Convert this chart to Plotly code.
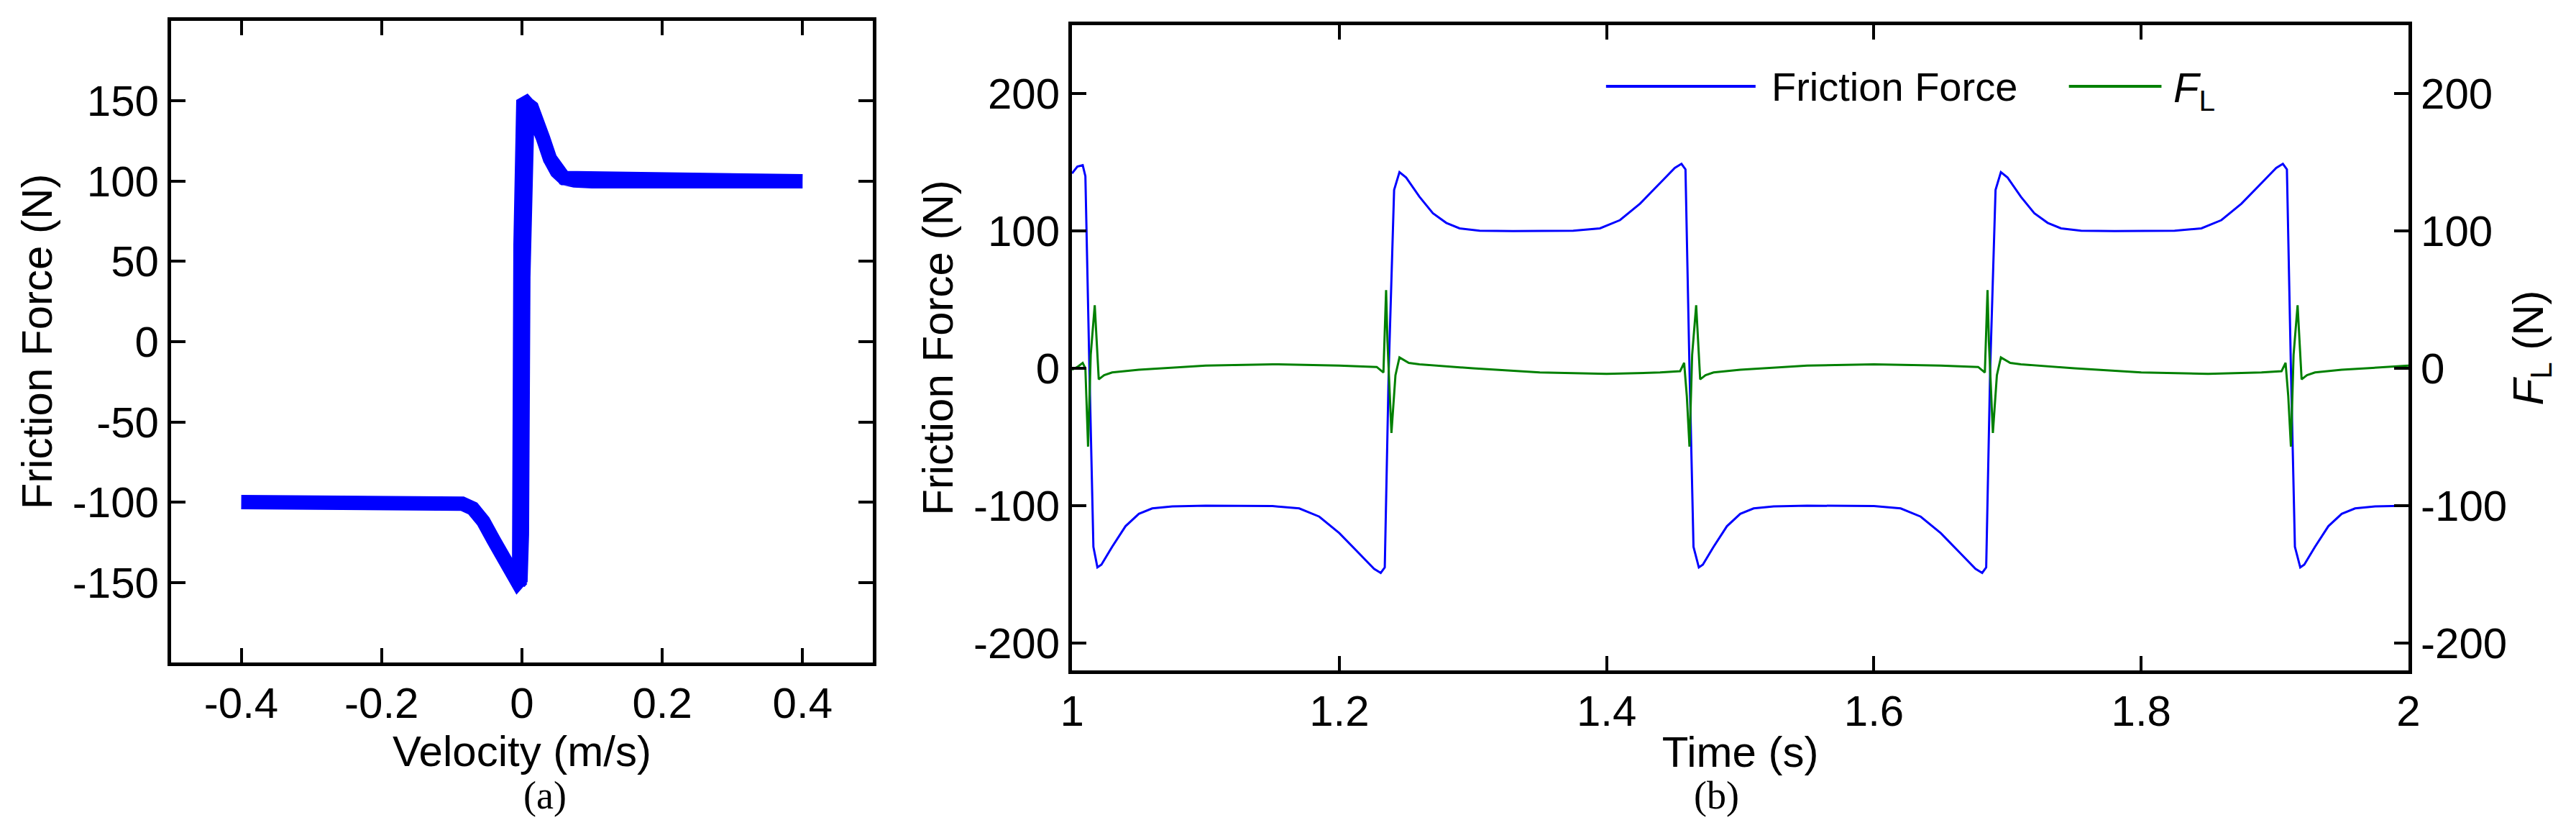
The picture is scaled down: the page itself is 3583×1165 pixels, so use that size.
import plotly.graph_objects as go

# Panel (a): friction force vs velocity (hysteresis loop)
vel_a = [-0.4, -0.1, -0.085, -0.07, -0.055, -0.04, -0.03, -0.02, -0.012, -0.006, -0.002, 0.0, 0.002, 0.004,
         0.008, 0.014, 0.02, 0.03, 0.04, 0.05, 0.06, 0.075, 0.1, 0.4,
         0.1, 0.075, 0.06, 0.05, 0.04, 0.03, 0.02, 0.012, 0.006, 0.002, -0.002, -0.006, -0.004, 0.0]
force_a = [-100, -100, -101, -104, -112, -124, -133, -142, -147, -150, -148, -120, 40, 146,
           148, 146, 140, 127, 114, 106, 102, 100.5, 100, 100,
           100, 100.5, 102, 106, 114, 127, 140, 146, 149, 148, 60, -140, -150, -148]

# Panel (b): time histories
time_ff = [1.000, 1.004, 1.008, 1.010, 1.013, 1.016, 1.019, 1.022, 1.030, 1.040, 1.050, 1.060, 1.075, 1.100,
           1.150, 1.170, 1.185, 1.200, 1.215, 1.226, 1.231, 1.234, 1.237, 1.241, 1.245, 1.250, 1.260, 1.270,
           1.280, 1.290, 1.305, 1.330, 1.375, 1.395, 1.410, 1.425, 1.440, 1.451, 1.456, 1.459, 1.462, 1.465,
           1.469, 1.472, 1.480, 1.490, 1.500, 1.510, 1.525, 1.550, 1.600, 1.620, 1.635, 1.650, 1.665, 1.676,
           1.681, 1.684, 1.687, 1.691, 1.695, 1.700, 1.710, 1.720, 1.730, 1.740, 1.755, 1.780, 1.825, 1.845,
           1.860, 1.875, 1.890, 1.901, 1.906, 1.909, 1.912, 1.915, 1.919, 1.922, 1.930, 1.940, 1.950, 1.960,
           1.975, 2.000]
friction = [142, 147, 148, 140, 0, -130, -145, -143, -130, -115, -106, -102, -100.5, -100,
            -100.3, -102, -108, -120, -135, -146, -149, -145, 0, 130, 143, 139, 125, 113,
            106, 102, 100.3, 100, 100.3, 102, 108, 120, 135, 146, 149, 145, 0, -130,
            -145, -143, -130, -115, -106, -102, -100.5, -100, -100.3, -102, -108, -120, -135, -146,
            -149, -145, 0, 130, 143, 139, 125, 113, 106, 102, 100.3, 100, 100.3, 102,
            108, 120, 135, 146, 149, 145, 0, -130, -145, -143, -130, -115, -106, -102,
            -100.5, -100]

time_fl = [1.000, 1.004, 1.008, 1.010, 1.012, 1.014, 1.017, 1.020, 1.024, 1.030, 1.050, 1.080, 1.100,
           1.150, 1.200, 1.228, 1.233, 1.235, 1.236, 1.239, 1.242, 1.245, 1.252, 1.260, 1.300, 1.350,
           1.400, 1.440, 1.455, 1.458, 1.460, 1.462, 1.464, 1.467, 1.470, 1.474, 1.480, 1.500, 1.550,
           1.600, 1.650, 1.678, 1.683, 1.685, 1.686, 1.689, 1.692, 1.695, 1.702, 1.710, 1.750, 1.800,
           1.850, 1.890, 1.905, 1.908, 1.910, 1.912, 1.914, 1.917, 1.920, 1.924, 1.930, 1.950, 2.000]
f_l = [-1, 1, 4, 0, -57, 10, 46, -8, -5, -3, -1, 1, 2,
       3, 2, 1, -3, 57, 20, -47, -5, 8, 4, 3, 0, -3,
       -4, -3, -2, 4, -20, -57, 10, 46, -8, -5, -3, -1, 2,
       3, 2, 1, -3, 57, 20, -47, -5, 8, 4, 3, 0, -3,
       -4, -3, -2, 4, -20, -57, 10, 46, -8, -5, -3, -1, 2]

ticks_va = [-0.4, -0.2, 0, 0.2, 0.4]
labels_va = ["-0.4", "-0.2", "0", "0.2", "0.4"]
ticks_fa = [-150, -100, -50, 0, 50, 100, 150]
labels_fa = ["-150", "-100", "-50", "0", "50", "100", "150"]
ticks_t = [1, 1.2, 1.4, 1.6, 1.8, 2]
labels_t = ["1", "1.2", "1.4", "1.6", "1.8", "2"]
ticks_fb = [-200, -100, 0, 100, 200]
labels_fb = ["-200", "-100", "0", "100", "200"]

FONT = "Liberation Sans, Arial, sans-serif"
TICKF = dict(family=FONT, size=60, color="black")
TITLEF = dict(family=FONT, size=60, color="black")

fig = go.Figure()
fig.add_trace(go.Scatter(x=vel_a, y=force_a, mode="lines", line=dict(color="#0000ff", width=20),
                         xaxis="x", yaxis="y", showlegend=False))
fig.add_trace(go.Scatter(x=time_ff, y=friction, mode="lines", line=dict(color="#0000ff", width=3),
                         xaxis="x2", yaxis="y2", name="Friction Force", showlegend=False))
fig.add_trace(go.Scatter(x=time_fl, y=f_l, mode="lines", line=dict(color="#008000", width=3),
                         xaxis="x2", yaxis="y3", name="F_L", showlegend=False))

ax = dict(showline=True, linecolor="black", linewidth=5, mirror="ticks", ticks="inside", ticklen=20,
          tickwidth=4, tickcolor="black", showgrid=False, zeroline=False, tickfont=TICKF)

fig.update_layout(
    width=3583, height=1165, margin=dict(l=0, r=0, t=0, b=0),
    paper_bgcolor="white", plot_bgcolor="white", font=dict(family=FONT, color="black"),
    xaxis=dict(ax, domain=[0.060, 0.335], anchor="y", range=[-0.5, 0.5], tickvals=ticks_va, ticktext=labels_va,
               title=dict(text="Velocity (m/s)", font=TITLEF, standoff=5)),
    yaxis=dict(ax, domain=[0.2163, 0.982], anchor="x", range=[-200, 200], tickvals=ticks_fa, ticktext=labels_fa,
               title=dict(text="Friction Force (N)", font=TITLEF, standoff=10)),
    xaxis2=dict(ax, domain=[0.4131, 0.9369], anchor="y2", range=[1, 2], tickvals=ticks_t, ticktext=labels_t,
                title=dict(text="Time (s)", font=TITLEF, standoff=5)),
    yaxis2=dict(ax, domain=[0.2069, 0.9768], anchor="x2", range=[-220, 250], mirror=False,
                tickvals=ticks_fb, ticktext=labels_fb,
                title=dict(text="Friction Force (N)", font=TITLEF, standoff=10)),
    yaxis3=dict(ax, overlaying="y2", anchor="x2", side="right", range=[-220, 250], mirror=False,
                tickvals=ticks_fb, ticktext=labels_fb,
                title=dict(text="<i>F</i><sub>L</sub> (N)", font=TITLEF, standoff=10)),
)

# manual legend
ly = 1 - 112 / 1165
fig.add_shape(type="line", xref="paper", yref="paper", x0=2230/3583, x1=2440/3583, y0=ly, y1=ly,
              line=dict(color="#0000ff", width=4))
fig.add_shape(type="line", xref="paper", yref="paper", x0=2880/3583, x1=3010/3583, y0=ly, y1=ly,
              line=dict(color="#008000", width=4))
fig.add_annotation(xref="paper", yref="paper", x=2460/3583, y=ly, xanchor="left", yanchor="middle",
                   text="Friction Force", showarrow=False, font=dict(family=FONT, size=56, color="black"))
fig.add_annotation(xref="paper", yref="paper", x=3025/3583, y=ly - 0.005, xanchor="left", yanchor="middle",
                   text="<i>F</i><sub>L</sub>", showarrow=False, font=dict(family=FONT, size=58, color="black"))

fig.add_annotation(xref="paper", yref="paper", x=(215+1200)/2/3583, y=1-1130/1165, text="(a)", showarrow=False,
                   font=dict(family="Liberation Serif, Times New Roman, serif", size=54, color="black"))
fig.add_annotation(xref="paper", yref="paper", x=(1480+3357)/2/3583, y=1-1130/1165, text="(b)", showarrow=False,
                   font=dict(family="Liberation Serif, Times New Roman, serif", size=54, color="black"))

fig.write_html("out.html")
